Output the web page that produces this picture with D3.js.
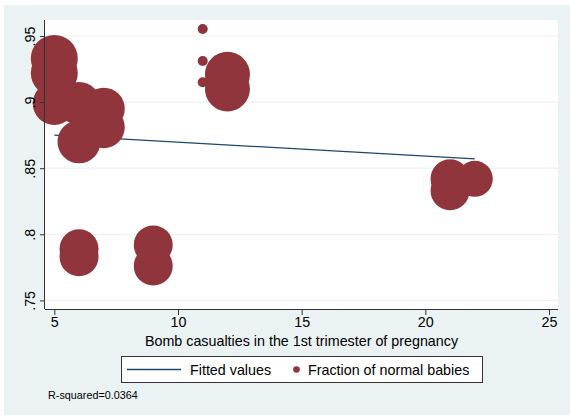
<!DOCTYPE html>
<html>
<head>
<meta charset="utf-8">
<script src="https://cdn.jsdelivr.net/npm/d3@7"></script>
<style>
  html, body { margin: 0; padding: 0; background: #ffffff; }
  svg { display: block; }
  text { font-family: "Liberation Sans", Arial, sans-serif; fill: #000; }
</style>
</head>
<body>
<svg id="chart" width="570" height="416"></svg>
<script>
// ---- data ----
const casualties = [5, 5, 5, 6, 6, 7, 7, 11, 11, 11, 12, 12, 6, 6, 9, 9, 21, 21, 22];
const fractionNormal = [0.933, 0.922, 0.899, 0.899, 0.870, 0.895, 0.881, 0.9553, 0.9311, 0.915, 0.921, 0.910, 0.789, 0.783, 0.792, 0.776, 0.842, 0.833, 0.842];
const weights = [613, 613, 514, 514, 514, 490, 490, 28, 28, 28, 563, 563, 422, 422, 422, 422, 422, 422, 360];
const fitX = [5, 22];
const fitY = [0.875, 0.857];
const xTicks = [5, 10, 15, 20, 25];
const xTickLabels = ["5", "10", "15", "20", "25"];
const yTicks = [0.75, 0.8, 0.85, 0.9, 0.95];
const yTickLabels = [".75", ".8", ".85", ".9", ".95"];
const xTitle = "Bomb casualties in the 1st trimester of pregnancy";
const legendLabels = ["Fitted values", "Fraction of normal babies"];
const note = "R-squared=0.0364";

// ---- layout ----
const svg = d3.select("#chart");
const plot = { left: 45, right: 558, top: 20, bottom: 309 };
const markerColor = "#8f353b";
const lineColor = "#1a476f";
const bgColor = "#eaf2f3";
const fs = 14.3;

const x = d3.scaleLinear().domain([4.624, 25.364]).range([plot.left, plot.right]);
const y = d3.scaleLinear().domain([0.7435, 0.9621]).range([plot.bottom, plot.top]);
const r = d3.scaleSqrt().domain([0, 1000]).range([0, 30]);

// outer background
svg.append("rect").attr("x", 4).attr("y", 5).attr("width", 566).attr("height", 410).attr("fill", bgColor);
// plot region
svg.append("rect").attr("x", plot.left).attr("y", plot.top)
  .attr("width", plot.right - plot.left).attr("height", plot.bottom - plot.top).attr("fill", "#ffffff");

// gridlines
svg.append("g").selectAll("line").data(yTicks).join("line")
  .attr("x1", plot.left).attr("x2", plot.right)
  .attr("y1", d => y(d)).attr("y2", d => y(d))
  .attr("stroke", bgColor).attr("stroke-width", 1.2);

// fitted line
svg.append("path")
  .datum(fitX.map((d, i) => [d, fitY[i]]))
  .attr("d", d3.line().x(d => x(d[0])).y(d => y(d[1])))
  .attr("fill", "none").attr("stroke", lineColor).attr("stroke-width", 1.3);

// scatter
const pts = casualties.map((d, i) => ({ x: d, y: fractionNormal[i], w: weights[i] }));
svg.append("g").selectAll("circle").data(pts).join("circle")
  .attr("cx", d => x(d.x)).attr("cy", d => y(d.y)).attr("r", d => r(d.w))
  .attr("fill", markerColor);

// axes
const xAxis = d3.axisBottom(x).tickValues(xTicks).tickFormat((d, i) => xTickLabels[i]).tickSize(6).tickPadding(2).tickSizeOuter(0);
const gx = svg.append("g").attr("transform", `translate(0,${plot.bottom})`).call(xAxis);
gx.select(".domain").attr("d", `M${plot.left},0.5H${plot.right}`).attr("stroke", "#333");
gx.selectAll(".tick line").attr("stroke", "#333");
gx.selectAll("text").attr("font-size", fs).attr("font-family", "Liberation Sans, Arial, sans-serif").attr("fill", "#000");

const yAxis = d3.axisLeft(y).tickValues(yTicks).tickFormat((d, i) => yTickLabels[i]).tickSize(5).tickSizeOuter(0);
const gy = svg.append("g").attr("transform", `translate(${plot.left},0)`).call(yAxis);
gy.select(".domain").attr("d", `M-0.5,${plot.top}V${plot.bottom}`).attr("stroke", "#333");
gy.selectAll(".tick line").attr("stroke", "#333");
gy.selectAll("text")
  .attr("font-size", fs).attr("font-family", "Liberation Sans, Arial, sans-serif").attr("fill", "#000")
  .attr("x", null).attr("dy", null)
  .attr("text-anchor", "middle")
  .attr("transform", "translate(-10,0) rotate(-90)")
  .attr("y", 0);

// x title
svg.append("text").attr("x", (plot.left + plot.right) / 2).attr("y", 345.5)
  .attr("text-anchor", "middle").attr("font-size", fs).text(xTitle);

// legend
const lg = svg.append("g");
lg.append("rect").attr("x", 121.5).attr("y", 356.5).attr("width", 361).attr("height", 26)
  .attr("fill", "#fff").attr("stroke", "#333").attr("stroke-width", 1);
lg.append("line").attr("x1", 127).attr("x2", 181).attr("y1", 369.5).attr("y2", 369.5)
  .attr("stroke", lineColor).attr("stroke-width", 1.3);
lg.append("text").attr("x", 190).attr("y", 375).attr("font-size", fs).text(legendLabels[0]);
lg.append("circle").attr("cx", 296.5).attr("cy", 369.5).attr("r", 3.3).attr("fill", markerColor);
lg.append("text").attr("x", 308).attr("y", 375).attr("font-size", fs).text(legendLabels[1]);

// note
svg.append("text").attr("x", 48).attr("y", 399).attr("font-size", 10.8).text(note);
</script>
</body>
</html>
